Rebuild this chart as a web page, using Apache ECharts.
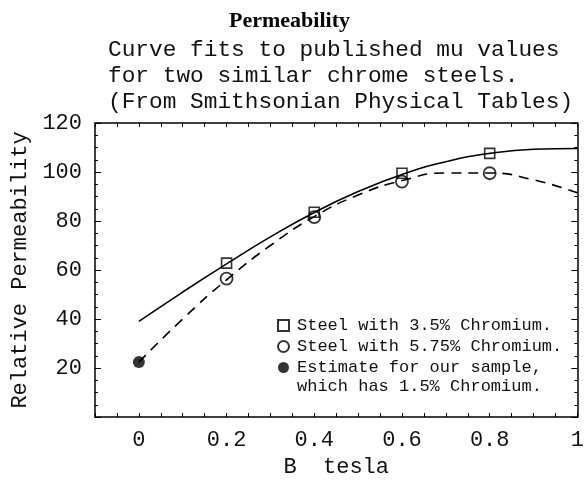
<!DOCTYPE html>
<html>
<head>
<meta charset="utf-8">
<script src="https://cdn.jsdelivr.net/npm/echarts@6/dist/echarts.min.js"></script>
<style>
  html, body { margin: 0; padding: 0; background: #fff; }
  #chart { width: 587px; height: 483px; }
</style>
</head>
<body>
<div id="chart"></div>
<script>
// curve fits
const fitB = [0, 0.1, 0.2, 0.3, 0.4, 0.5, 0.6, 0.7, 0.8, 0.9, 1.0];
const fit35 = [39, 51, 62.5, 73.5, 83.5, 92, 99, 104.2, 107.6, 109.3, 109.6];
const fit575 = [22.4, 40, 56, 70, 81.8, 90.6, 96.5, 99.6, 99.6, 96.8, 91.5];

// published values
const sampleB = [0.2, 0.4, 0.6, 0.8];
const steel35 = [62.8, 83.6, 99.5, 107.6];
const steel575 = [56.5, 81.6, 96.1, 99.5];

// our estimate
const estimateB = [0];
const estimate = [22.4];

const xTickLabels = ["0", "0.2", "0.4", "0.6", "0.8", "1"];
const yTickLabels = ["20", "40", "60", "80", "100", "120"];

const mono = "Liberation Mono";
const ink = "#000";

const pairs = (xs, ys) => xs.map((x, i) => [x, ys[i]]);

const xLabel = (v) => {
  if (Math.abs(v * 5 - Math.round(v * 5)) > 1e-6) return "";
  const s = Math.round(v * 10) / 10;
  const txt = s === 0 ? "0" : s === 1 ? "1" : s.toFixed(1);
  return xTickLabels.includes(txt) ? txt : "";
};
const yLabel = (v) => (yTickLabels.includes(String(v)) ? String(v) : "");

const xAxisBase = {
  type: "value",
  min: -0.1,
  max: 1,
  interval: 0.05,
  splitLine: { show: false },
  axisLine: { show: true, onZero: false, lineStyle: { color: ink, width: 1.5 } },
  axisTick: { show: true, inside: true, length: 4, lineStyle: { color: ink } },
};
const yAxisBase = {
  type: "value",
  min: 0,
  max: 120,
  interval: 20,
  splitLine: { show: false },
  axisLine: { show: true, onZero: false, lineStyle: { color: ink, width: 1.5 } },
  axisTick: { show: true, inside: true, length: 6, lineStyle: { color: ink } },
  minorTick: { show: true, splitNumber: 4, length: 3, lineStyle: { color: ink } },
};

const myChart = echarts.init(document.getElementById("chart"), null, { renderer: "canvas" });
myChart.setOption({
  animation: false,
  backgroundColor: "#fff",
  title: [
    {
      text: "Permeability",
      left: 224,
      top: 5,
      textStyle: { fontFamily: "Liberation Serif", fontWeight: "bold", fontSize: 22, color: ink },
    },
    {
      text: "Curve fits to published mu values\nfor two similar chrome steels.\n(From Smithsonian Physical Tables)",
      left: 103,
      top: 32,
      textStyle: { fontFamily: mono, fontWeight: "normal", fontSize: 22.8, lineHeight: 26, color: "#111" },
    },
  ],
  grid: { left: 95, top: 123, right: 8, bottom: 60 },
  legend: {
    orient: "vertical",
    left: 272,
    top: 310,
    itemWidth: 11,
    itemHeight: 11,
    itemGap: 0,
    data: ["Steel with 3.5% Chromium.", "Steel with 5.75% Chromium.", "Estimate for our sample,"],
    textStyle: { fontFamily: mono, fontSize: 17, color: "#111", lineHeight: 21, padding: [0, 0, 0, 3] },
  },
  graphic: [
    {
      type: "text",
      left: 297,
      top: 378,
      style: { text: "which has 1.5% Chromium.", font: "17px 'Liberation Mono'", fill: "#111" },
    },
  ],
  xAxis: [
    Object.assign({}, xAxisBase, {
      position: "bottom",
      name: "B  tesla",
      nameLocation: "middle",
      nameGap: 39,
      nameTextStyle: { fontFamily: mono, fontSize: 22, color: "#111" },
      axisLabel: { formatter: xLabel, margin: 12, fontFamily: mono, fontSize: 22, color: "#111" },
    }),
    Object.assign({}, xAxisBase, { position: "top", axisLabel: { show: false } }),
  ],
  yAxis: [
    Object.assign({}, yAxisBase, {
      position: "left",
      name: "Relative Permeability",
      nameLocation: "middle",
      nameGap: 60,
      nameTextStyle: { fontFamily: mono, fontSize: 22, color: "#111" },
      axisLabel: { formatter: yLabel, margin: 13, fontFamily: mono, fontSize: 22, color: "#111" },
    }),
    Object.assign({}, yAxisBase, { position: "right", axisLabel: { show: false } }),
  ],
  series: [
    {
      name: "Fit 3.5% Cr",
      type: "line",
      smooth: true,
      showSymbol: false,
      data: pairs(fitB, fit35),
      lineStyle: { color: ink, width: 1.6 },
      z: 2,
    },
    {
      name: "Fit 5.75% Cr",
      type: "line",
      smooth: true,
      showSymbol: false,
      data: pairs(fitB, fit575),
      lineStyle: { color: ink, width: 1.6, type: [10, 7] },
      z: 2,
    },
    {
      name: "Steel with 3.5% Chromium.",
      type: "scatter",
      symbol: "rect",
      symbolSize: 10,
      data: pairs(sampleB, steel35),
      itemStyle: { color: "rgba(255,255,255,0)", borderColor: ink, borderWidth: 1.6 },
      z: 3,
    },
    {
      name: "Steel with 5.75% Chromium.",
      type: "scatter",
      symbol: "circle",
      symbolSize: 12,
      data: pairs(sampleB, steel575),
      itemStyle: { color: "rgba(255,255,255,0)", borderColor: ink, borderWidth: 1.8 },
      z: 3,
    },
    {
      name: "Estimate for our sample,",
      type: "scatter",
      symbol: "circle",
      symbolSize: 12,
      data: pairs(estimateB, estimate),
      itemStyle: { color: ink },
      z: 3,
    },
  ],
});
</script>
</body>
</html>
